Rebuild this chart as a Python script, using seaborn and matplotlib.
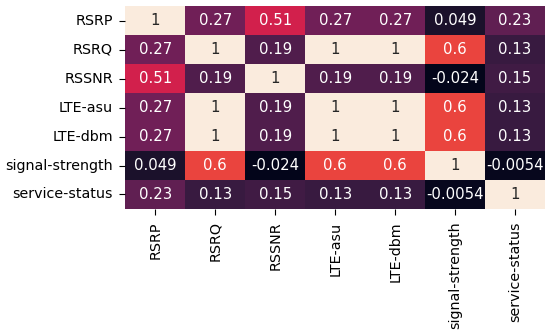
import numpy as np
import pandas as pd
import seaborn as sns
import matplotlib
matplotlib.use("Agg")
import matplotlib.pyplot as plt

labels = ['RSRP', 'RSRQ', 'RSSNR', 'LTE-asu', 'LTE-dbm',
          'signal-strength', 'service-status']

# correlation values
rsrp = [1, 0.27, 0.51, 0.27, 0.27, 0.049, 0.23]
rsrq = [0.27, 1, 0.19, 1, 1, 0.6, 0.13]
rssnr = [0.51, 0.19, 1, 0.19, 0.19, -0.024, 0.15]
lte_asu = [0.27, 1, 0.19, 1, 1, 0.6, 0.13]
lte_dbm = [0.27, 1, 0.19, 1, 1, 0.6, 0.13]
signal_strength = [0.049, 0.6, -0.024, 0.6, 0.6, 1, -0.0054]
service_status = [0.23, 0.13, 0.15, 0.13, 0.13, -0.0054, 1]

corr = pd.DataFrame([rsrp, rsrq, rssnr, lte_asu, lte_dbm,
                     signal_strength, service_status],
                    index=labels, columns=labels)

fig = plt.figure(figsize=(5.5, 3.36), dpi=100)
ax = fig.add_axes([0.228, 0.378, 0.763, 0.604])
sns.heatmap(corr, annot=True, cbar=False, ax=ax,
            annot_kws={'fontsize': 10.7})
ax.tick_params(labelsize=10.3, length=4.5, pad=4.5)
plt.setp(ax.get_xticklabels(), rotation=90)
plt.setp(ax.get_yticklabels(), rotation=0)

fig.savefig('out.png', dpi=100)
